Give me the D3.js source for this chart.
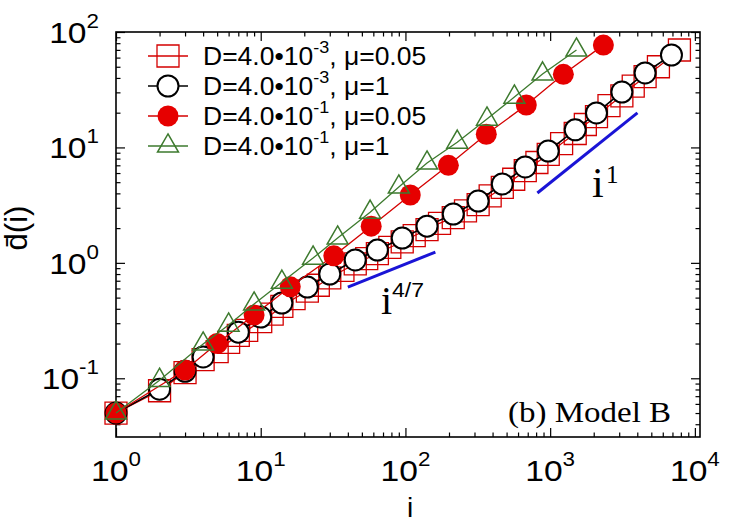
<!DOCTYPE html>
<html><head><meta charset="utf-8">
<script src="https://cdn.jsdelivr.net/npm/d3@7"></script>
<style>body{margin:0;background:#fff}</style>
</head><body>
<script>
// ---- data ----
const sqI = [1,2,3,4,5,6,7,8,10,12,14,17,21,25,30,37,45,54,64,78,95,115,141,172,214,260,318,385,467,560,673,810,970,1200,1490,1750,2090,2550,3130,3750,4530,5600,7820];
const sqD = [0.050,0.078,0.112,0.145,0.17,0.205,0.235,0.26,0.31,0.36,0.42,0.49,0.57,0.64,0.74,0.86,0.98,1.09,1.20,1.36,1.52,1.72,1.94,2.20,2.47,2.82,3.20,3.80,4.50,5.30,6.30,7.40,8.70,10.8,13.2,15.8,18.5,23.0,28.0,34.0,41.0,50.0,69.8];
const ciI = [1,2,3,4,7,10,14,21,30,45,64,95,141,214,318,467,673,970,1490,2090,3130,4530,6890];
const ciD = [0.050,0.0805,0.115,0.153,0.251,0.339,0.449,0.617,0.80,1.06,1.29,1.64,2.08,2.65,3.43,4.82,6.77,9.3,14.2,19.9,30.2,44.2,63.2];
const rfI = [1,3,5,9,16,32,58,108,198,362,684,1234,2333];
const rfD = [0.05,0.118,0.20,0.353,0.62,1.15,2.08,3.87,7.0,13.0,23.3,43,77];
const trI = [1,2,4,6,9,14,23,34,57,90,141,228,366,566,886,1520];
const trD = [0.05,0.096,0.198,0.289,0.44,0.68,1.10,1.64,2.75,4.54,7.33,11.1,17.6,27.3,43.3,69.8];
const fitA = [[40,0.617],[161,1.24]];
const fitB = [[816,4.03],[4010,19.9]];
const legendMain = ["D=4.0\u202210","D=4.0\u202210","D=4.0\u202210","D=4.0\u202210"];
const legendExp = ["-3","-3","-1","-1"];
const legendTail = [", \u03bc=0.05",", \u03bc=1",", \u03bc=0.05",", \u03bc=1"];
const xMajor = [1,10,100,1000,10000];
const xExp = ["0","1","2","3","4"];
const yMajor = [0.1,1,10,100];
const yExp = ["-1","0","1","2"];

const SANS = "'Liberation Sans', Arial, Helvetica, sans-serif";
const SERIF = "'Liberation Serif', 'Times New Roman', serif";
const RED = "#d40000", FRED = "#e60000", GREEN = "#3d7a2e", BLUE = "#1a14d6";

const W = 750, H = 525;
const L = 116, R = 700, T = 32, B = 437;
const svg = d3.select("body").append("svg").attr("width", W).attr("height", H);

const x = d3.scaleLog().domain([1, 10850]).range([L, R]);
const y = d3.scaleLog().domain([0.031, 100]).range([B, T]);

function minors(lo, hi) {
  const out = [];
  for (let p = lo; p <= hi; p *= 10) for (let k = 2; k <= 9; k++) out.push(p * k);
  return out;
}
const xMinor = minors(1, 1000).filter(v => v < 10850);
const yMinor = minors(0.01, 10).filter(v => v >= 0.031 && v < 100);

// axes (ticks inward, mirrored)
function drawAxis(axisFn, scale, transform, vals, size) {
  const g = svg.append("g").attr("transform", transform)
    .call(axisFn(scale).tickValues(vals).tickSize(size).tickFormat(""));
  g.select(".domain").remove();
  g.selectAll("line").attr("stroke", "#000").attr("stroke-width", 1.2);
}
drawAxis(d3.axisBottom, x, `translate(0,${B})`, xMajor, -9);
drawAxis(d3.axisBottom, x, `translate(0,${B})`, xMinor, -4.5);
drawAxis(d3.axisTop, x, `translate(0,${T})`, xMajor, -9);
drawAxis(d3.axisTop, x, `translate(0,${T})`, xMinor, -4.5);
drawAxis(d3.axisLeft, y, `translate(${L},0)`, yMajor, -9);
drawAxis(d3.axisLeft, y, `translate(${L},0)`, yMinor, -4.5);
drawAxis(d3.axisRight, y, `translate(${R},0)`, yMajor, -9);
drawAxis(d3.axisRight, y, `translate(${R},0)`, yMinor, -4.5);

svg.append("rect").attr("x", L).attr("y", T).attr("width", R - L).attr("height", B - T)
  .attr("fill", "none").attr("stroke", "#000").attr("stroke-width", 1.6);

// tick labels
function powLabel(px, py, exp, anchor) {
  const g = svg.append("g").attr("transform", `translate(${px},${py}) scale(1.12,1)`);
  const t = g.append("text").attr("text-anchor", anchor).attr("font-family", SANS)
    .attr("font-size", 30).attr("fill", "#000");
  t.append("tspan").text("10");
  t.append("tspan").attr("font-size", 20).attr("dy", -15).text(exp);
}
xMajor.forEach((v, i) => powLabel(x(v), 481, xExp[i], "middle"));
yMajor.forEach((v, i) => powLabel(99, y(v) + 11, yExp[i], "end"));

// axis titles
svg.append("text").attr("x", 410).attr("y", 517).attr("text-anchor", "middle")
  .attr("font-family", SANS).attr("font-size", 28).text("i");
svg.append("text").attr("transform", "translate(27,228) rotate(-90)").attr("text-anchor", "middle")
  .attr("font-family", SANS).attr("font-size", 31).text("d\u0304(i)");

// fit lines
const lineGen = d3.line().x(d => x(d[0])).y(d => y(d[1]));
[fitA, fitB].forEach(f => svg.append("path").attr("d", lineGen(f))
  .attr("stroke", BLUE).attr("stroke-width", 3).attr("fill", "none"));

// fit labels
svg.append("text").attr("x", 381).attr("y", 314).attr("font-family", SERIF).attr("font-size", 40).text("i");
svg.append("g").attr("transform", "translate(392,297) scale(1.15,1)")
  .append("text").attr("font-family", SANS).attr("font-size", 20).text("4/7");
svg.append("text").attr("x", 592).attr("y", 197).attr("font-family", SERIF).attr("font-size", 42).text("i");
svg.append("text").attr("x", 606).attr("y", 183).attr("font-family", SERIF).attr("font-size", 25).text("1");

// model label
svg.append("g").attr("transform", "translate(508,422) scale(1.1,1)")
  .append("text").attr("font-family", SERIF).attr("font-size", 30).text("(b) Model B");

// series
const pts = (I, D) => I.map((v, k) => [v, D[k]]);
const sq = pts(sqI, sqD), ci = pts(ciI, ciD), rf = pts(rfI, rfD), tr = pts(trI, trD);

const tri = d3.symbol().type(d3.symbolTriangle).size(190)();
const circ = d3.symbol().type(d3.symbolCircle).size(Math.PI * 10.5 * 10.5)();
const fcirc = d3.symbol().type(d3.symbolCircle).size(Math.PI * 10.5 * 10.5)();
const sqr = d3.symbol().type(d3.symbolSquare).size(22 * 22)();

function series(data, color, lw, shape, fill, stroke, sw) {
  svg.append("path").attr("d", lineGen(data)).attr("fill", "none")
    .attr("stroke", color).attr("stroke-width", lw);
  svg.append("g").selectAll("path").data(data).join("path")
    .attr("transform", d => `translate(${x(d[0])},${y(d[1])})`)
    .attr("d", shape).attr("fill", fill).attr("stroke", stroke).attr("stroke-width", sw);
}
series(sq, RED, 1.2, sqr, "none", RED, 1.3);
series(ci, "#000", 1.6, circ, "#fff", "#000", 2);
series(rf, RED, 1.3, fcirc, FRED, "none", 0);
series(tr, GREEN, 1.3, tri, "none", GREEN, 1.5);

// legend
const legShapes = [
  {shape: sqr, fill: "none", stroke: RED, sw: 1.3, lc: RED},
  {shape: circ, fill: "#fff", stroke: "#000", sw: 2, lc: "#000"},
  {shape: fcirc, fill: FRED, stroke: "none", sw: 0, lc: RED},
  {shape: tri, fill: "none", stroke: GREEN, sw: 1.5, lc: GREEN}
];
legShapes.forEach((s, k) => {
  const cy = 56 + 30 * k;
  svg.append("line").attr("x1", 148).attr("x2", 188).attr("y1", cy).attr("y2", cy)
    .attr("stroke", s.lc).attr("stroke-width", 1.3);
  svg.append("path").attr("transform", `translate(168,${cy})`).attr("d", s.shape)
    .attr("fill", s.fill).attr("stroke", s.stroke).attr("stroke-width", s.sw);
  const g = svg.append("g").attr("transform", `translate(203,${cy + 9}) scale(1.06,1)`);
  const t = g.append("text").attr("font-family", SANS).attr("font-size", 25);
  t.append("tspan").text(legendMain[k]);
  t.append("tspan").attr("font-size", 17).attr("dy", -12).text(legendExp[k]);
  t.append("tspan").attr("dy", 12).text(legendTail[k]);
});
</script>
</body></html>
